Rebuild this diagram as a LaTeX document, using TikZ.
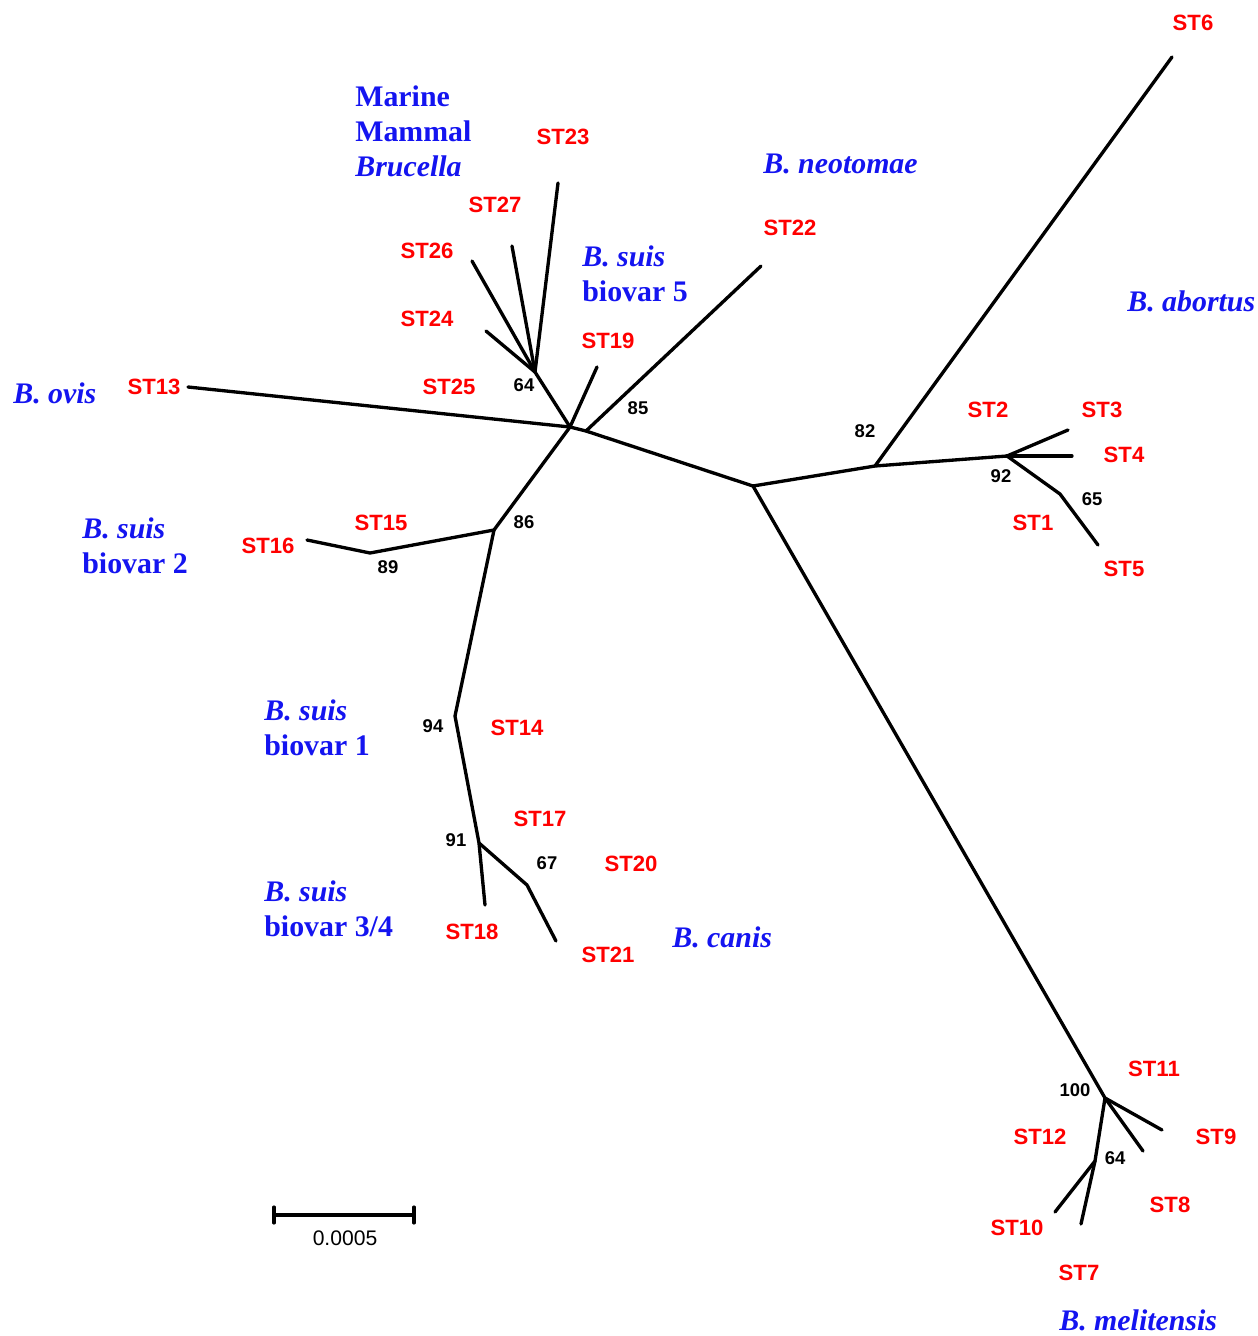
\documentclass[tikz,border=0pt]{standalone}
\usepackage{fontspec}
\setmainfont{Liberation Serif}
\setsansfont{Liberation Sans}
\usepackage{tikz}
\definecolor{taxblue}{RGB}{20,20,240}
\definecolor{stred}{RGB}{255,0,0}

\begin{document}
\begin{tikzpicture}[x=0.02cm,y=-0.02cm]
	\tikzset{branch/.style={line width=1.9pt,line cap=round,line join=round}}
	\tikzset{st/.style={text=stred,font=\sffamily\bfseries\fontsize{12.6}{12.6}\selectfont,inner sep=0pt}}
	\tikzset{boot/.style={font=\sffamily\bfseries\fontsize{10.5}{10.5}\selectfont,inner sep=0pt}}
	\tikzset{taxon/.style={text=taxblue,font=\bfseries\fontsize{17}{20}\selectfont,align=left,anchor=west,inner sep=0pt}}
	\useasboundingbox (0,0) rectangle (1258,1336);
	% internal nodes
	\coordinate (hub) at (570,427);
	\coordinate (n85) at (586,431);
	\coordinate (ctr) at (753,486);
	\coordinate (n82) at (875,466);
	\coordinate (n92) at (1007,456);
	\coordinate (n65) at (1060,494);
	\coordinate (n100) at (1105,1098);
	\coordinate (n64b) at (1095,1161);
	\coordinate (n64) at (535,372);
	\coordinate (n86) at (494,530);
	\coordinate (n89) at (370,553);
	\coordinate (n94) at (455,716);
	\coordinate (n91) at (479,843);
	\coordinate (n67) at (527,885);
	% tips
	\coordinate (t6) at (1172,57);
	\coordinate (t3) at (1068,430);
	\coordinate (t4) at (1072,456);
	\coordinate (t5) at (1098,545);
	\coordinate (t9) at (1162,1130);
	\coordinate (t8) at (1143,1151);
	\coordinate (t10) at (1055,1212);
	\coordinate (t7) at (1081,1224);
	\coordinate (t23) at (558,183);
	\coordinate (t27) at (512,246);
	\coordinate (t26) at (472,261);
	\coordinate (t24) at (486,331);
	\coordinate (t19) at (597,367);
	\coordinate (t22) at (761,266);
	\coordinate (t13) at (188,387);
	\coordinate (t16) at (307,540);
	\coordinate (t18) at (485,905);
	\coordinate (t21) at (556,941);
	% branches
	\draw[branch] (t13) -- (hub) -- (n85) -- (ctr) -- (n82) -- (n92) -- (n65) -- (t5);
	\draw[branch] (n82) -- (t6);
	\draw[branch] (n92) -- (t3);
	\draw[branch] (n92) -- (t4);
	\draw[branch] (ctr) -- (n100) -- (t9);
	\draw[branch] (n100) -- (t8);
	\draw[branch] (n100) -- (n64b) -- (t10);
	\draw[branch] (n64b) -- (t7);
	\draw[branch] (n85) -- (t22);
	\draw[branch] (hub) -- (t19);
	\draw[branch] (hub) -- (n64) -- (t23);
	\draw[branch] (n64) -- (t27);
	\draw[branch] (n64) -- (t26);
	\draw[branch] (n64) -- (t24);
	\draw[branch] (hub) -- (n86) -- (n89) -- (t16);
	\draw[branch] (n86) -- (n94) -- (n91) -- (t18);
	\draw[branch] (n91) -- (n67) -- (t21);
	% sequence types
	\node[st] (l6) at (1193,23) {ST6};
	\node[st] (l23) at (563,137) {ST23};
	\node[st] (l27) at (495,205) {ST27};
	\node[st] (l26) at (427,251) {ST26};
	\node[st] (l24) at (427,319) {ST24};
	\node[st] (l25) at (449,387) {ST25};
	\node[st] (l19) at (608,341) {ST19};
	\node[st] (l22) at (790,228) {ST22};
	\node[st] (l13) at (154,387) {ST13};
	\node[st] (l15) at (381,523) {ST15};
	\node[st] (l16) at (268,546) {ST16};
	\node[st] (l14) at (517,728) {ST14};
	\node[st] (l17) at (540,819) {ST17};
	\node[st] (l20) at (631,864) {ST20};
	\node[st] (l18) at (472,932) {ST18};
	\node[st] (l21) at (608,955) {ST21};
	\node[st] (l2) at (988,410) {ST2};
	\node[st] (l3) at (1102,410) {ST3};
	\node[st] (l4) at (1124,455) {ST4};
	\node[st] (l1) at (1033,523) {ST1};
	\node[st] (l5) at (1124,569) {ST5};
	\node[st] (l11) at (1154,1069) {ST11};
	\node[st] (l9) at (1216,1137) {ST9};
	\node[st] (l12) at (1040,1137) {ST12};
	\node[st] (l8) at (1170,1205) {ST8};
	\node[st] (l10) at (1017,1228) {ST10};
	\node[st] (l7) at (1079,1273) {ST7};
	% bootstrap values
	\node[boot] (b64) at (524,385) {64};
	\node[boot] (b85) at (638,408) {85};
	\node[boot] (b86) at (524,522) {86};
	\node[boot] (b89) at (388,567) {89};
	\node[boot] (b94) at (433,726) {94};
	\node[boot] (b91) at (456,840) {91};
	\node[boot] (b67) at (547,863) {67};
	\node[boot] (b82) at (865,431) {82};
	\node[boot] (b92) at (1001,476) {92};
	\node[boot] (b65) at (1092,499) {65};
	\node[boot] (b100) at (1075,1090) {100};
	\node[boot] (b64b) at (1115,1158) {64};
	% species
	\node[taxon] (marine) at (355,131) {Marine\\Mammal\\\textit{Brucella}};
	\node[taxon] (neotomae) at (763,164) {\textit{B. neotomae}};
	\node[taxon] (suis5) at (582,274) {\textit{B. suis}\\biovar 5};
	\node[taxon] (abortus) at (1127,301) {\textit{B. abortus}};
	\node[taxon] (ovis) at (13,393) {\textit{B. ovis}};
	\node[taxon] (suis2) at (82,546) {\textit{B. suis}\\biovar 2};
	\node[taxon] (suis1) at (264,728) {\textit{B. suis}\\biovar 1};
	\node[taxon] (suis34) at (264,909) {\textit{B. suis}\\biovar 3/4};
	\node[taxon] (canis) at (672,937) {\textit{B. canis}};
	\node[taxon] (melit) at (1059,1320) {\textit{B. melitensis}};
	% scale bar
	\coordinate (sbl) at (274,1215);
	\coordinate (sbr) at (414,1215);
	\draw[branch] (sbl) -- (sbr);
	\draw[branch] ([yshift=4.5pt]sbl) -- ([yshift=-4.5pt]sbl);
	\draw[branch] ([yshift=4.5pt]sbr) -- ([yshift=-4.5pt]sbr);
	\node[font=\sffamily\fontsize{12}{12}\selectfont,inner sep=0pt] (sblabel) at (345,1238) {0.0005};
\end{tikzpicture}
\end{document}
